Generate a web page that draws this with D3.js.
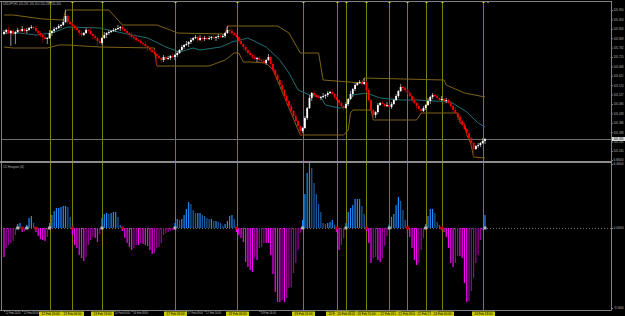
<!DOCTYPE html>
<html>
<head>
<meta charset="utf-8">
<script src="https://cdn.jsdelivr.net/npm/d3@7"></script>
<style>
html, body { margin: 0; padding: 0; background: #000; overflow: hidden; }
svg { display: block; }
</style>
</head>
<body>
<div id="chart"></div>
<script>
// ---- data ----
const symbolTitle = "USDJPY,H1  105.295 105.310 105.280 105.305";
const indicatorTitle = "CCI Histogram (14)";

const open = [
  105.830,105.840,105.850,105.835,105.845,105.830,105.840,105.850,105.845,105.855,105.845,105.850,
  105.860,105.865,105.860,105.845,105.835,105.825,105.815,105.805,
  105.810,105.835,105.845,105.855,105.860,105.870,105.875,105.890,
  105.920,105.890,105.880,105.870,105.860,105.850,105.835,105.825,105.835,105.850,105.845,105.830,105.820,105.810,105.795,
  105.785,105.810,105.825,105.835,105.840,105.845,105.850,105.855,105.860,
  105.865,105.855,105.845,105.835,105.825,105.815,105.810,105.800,105.795,105.785,105.780,105.770,105.760,105.750,105.740,
  105.730,105.720,105.710,105.700,105.715,105.705,105.710,105.720,105.715,
  105.725,105.735,105.750,105.765,105.775,105.780,105.790,105.800,105.810,105.815,105.800,
  105.810,105.805,105.810,105.805,105.810,105.815,105.810,105.815,105.820,105.815,105.820,105.835,105.850,
  105.845,105.835,105.825,105.815,105.795,105.780,105.765,
  105.750,105.735,105.725,105.715,105.705,105.710,105.700,105.695,105.685,105.700,
  105.715,105.680,105.650,105.625,105.600,105.575,105.550,105.520,105.495,105.470,105.445,105.420,105.395,105.370,
  105.345,105.360,105.410,105.460,105.510,
  105.535,105.525,105.515,105.510,105.515,105.520,105.525,105.535,105.540,105.530,
  105.515,105.500,105.485,105.470,
  105.460,105.480,105.505,105.530,105.555,105.575,105.585,105.590,105.580,
  105.590,105.550,105.500,105.450,105.425,
  105.440,105.475,105.485,105.480,105.470,105.475,105.465,105.480,105.500,105.520,105.545,
  105.565,105.560,105.550,105.535,105.520,105.500,105.485,105.470,105.455,
  105.445,105.460,105.475,105.495,105.515,105.525,
  105.520,105.510,105.500,105.505,105.495,105.500,
  105.485,105.470,105.450,105.435,105.415,105.395,105.375,105.355,105.335,
  105.310,105.285,105.255,105.270,105.275,105.285,105.295
];
const high = [
  105.850,105.855,105.865,105.850,105.855,105.845,105.860,105.855,105.870,105.860,105.860,105.865,
  105.875,105.870,105.875,105.850,105.845,105.830,105.825,105.815,
  105.850,105.850,105.865,105.865,105.880,105.880,105.905,105.950,
  105.930,105.895,105.890,105.875,105.875,105.855,105.845,105.840,105.860,105.855,105.860,105.835,105.830,105.815,105.805,
  105.815,105.840,105.840,105.850,105.850,105.860,105.860,105.875,105.870,
  105.875,105.860,105.855,105.840,105.840,105.820,105.820,105.805,105.805,105.790,105.795,105.775,105.770,105.755,105.750,
  105.735,105.735,105.715,105.725,105.720,105.720,105.725,105.735,105.730,
  105.745,105.755,105.775,105.780,105.795,105.795,105.810,105.815,105.825,105.820,105.825,
  105.815,105.820,105.815,105.820,105.820,105.830,105.820,105.830,105.825,105.830,105.840,105.870,105.855,
  105.855,105.840,105.835,105.820,105.810,105.785,105.775,
  105.755,105.745,105.730,105.730,105.715,105.720,105.705,105.705,105.705,105.730,
  105.720,105.690,105.655,105.635,105.605,105.590,105.555,105.530,105.500,105.480,105.450,105.435,105.400,105.375,
  105.365,105.420,105.465,105.525,105.540,
  105.545,105.530,105.525,105.520,105.535,105.530,105.545,105.545,105.550,105.535,
  105.530,105.505,105.495,105.475,
  105.490,105.510,105.545,105.560,105.585,105.590,105.600,105.595,105.610,
  105.595,105.560,105.505,105.455,105.445,
  105.485,105.490,105.495,105.485,105.490,105.480,105.490,105.505,105.530,105.550,105.580,
  105.570,105.570,105.555,105.545,105.525,105.515,105.490,105.480,105.460,
  105.470,105.480,105.510,105.520,105.535,105.530,
  105.530,105.515,105.520,105.510,105.510,105.505,
  105.495,105.475,105.465,105.440,105.425,105.400,105.385,105.360,105.350,
  105.315,105.290,105.275,105.285,105.290,105.310,105.310
];
const low = [
  105.825,105.830,105.830,105.770,105.820,105.780,105.835,105.835,105.840,105.830,105.835,105.845,
  105.855,105.850,105.840,105.820,105.815,105.785,105.800,105.780,
  105.805,105.820,105.835,105.850,105.855,105.860,105.870,105.885,
  105.880,105.875,105.865,105.850,105.845,105.820,105.815,105.820,105.830,105.835,105.825,105.805,105.800,105.770,105.780,
  105.775,105.805,105.810,105.825,105.835,105.840,105.840,105.850,105.845,
  105.845,105.840,105.830,105.815,105.810,105.795,105.790,105.790,105.780,105.770,105.765,105.745,105.740,105.735,105.725,
  105.670,105.705,105.685,105.690,105.700,105.700,105.700,105.710,105.700,
  105.715,105.730,105.745,105.755,105.770,105.765,105.780,105.795,105.805,105.790,105.795,
  105.790,105.795,105.800,105.800,105.800,105.805,105.795,105.805,105.810,105.810,105.810,105.830,105.830,
  105.825,105.820,105.810,105.785,105.775,105.750,105.740,
  105.730,105.720,105.705,105.700,105.690,105.690,105.690,105.680,105.675,105.695,
  105.665,105.640,105.620,105.595,105.565,105.545,105.505,105.485,105.465,105.440,105.410,105.390,105.355,105.325,
  105.335,105.355,105.400,105.455,105.495,
  105.515,105.510,105.505,105.500,105.510,105.505,105.515,105.530,105.525,105.505,
  105.495,105.470,105.460,105.450,
  105.455,105.470,105.500,105.515,105.545,105.570,105.580,105.570,105.575,
  105.535,105.490,105.445,105.400,105.410,
  105.430,105.470,105.475,105.460,105.465,105.450,105.455,105.475,105.495,105.510,105.540,
  105.545,105.540,105.530,105.515,105.490,105.480,105.455,105.445,105.435,
  105.440,105.450,105.470,105.480,105.505,105.515,
  105.505,105.490,105.495,105.480,105.485,105.480,
  105.465,105.440,105.430,105.400,105.385,105.370,105.350,105.325,105.305,
  105.270,105.215,105.250,105.260,105.265,105.280,105.280
];
const close = [
  105.840,105.850,105.835,105.845,105.830,105.840,105.850,105.845,105.855,105.845,105.850,105.860,
  105.865,105.860,105.845,105.835,105.825,105.815,105.805,105.810,
  105.835,105.845,105.855,105.860,105.870,105.875,105.890,105.920,
  105.890,105.880,105.870,105.860,105.850,105.835,105.825,105.835,105.850,105.845,105.830,105.820,105.810,105.795,105.785,
  105.810,105.825,105.835,105.840,105.845,105.850,105.855,105.860,105.865,
  105.855,105.845,105.835,105.825,105.815,105.810,105.800,105.795,105.785,105.780,105.770,105.760,105.750,105.740,105.730,
  105.720,105.710,105.700,105.715,105.705,105.710,105.720,105.715,105.725,
  105.735,105.750,105.765,105.775,105.780,105.790,105.800,105.810,105.815,105.800,105.810,
  105.805,105.810,105.805,105.810,105.815,105.810,105.815,105.820,105.815,105.820,105.835,105.850,105.845,
  105.835,105.825,105.815,105.795,105.780,105.765,105.750,
  105.735,105.725,105.715,105.705,105.710,105.700,105.695,105.685,105.700,105.715,
  105.680,105.650,105.625,105.600,105.575,105.550,105.520,105.495,105.470,105.445,105.420,105.395,105.370,105.345,
  105.360,105.410,105.460,105.510,105.535,
  105.525,105.515,105.510,105.515,105.520,105.525,105.535,105.540,105.530,105.515,
  105.500,105.485,105.470,105.460,
  105.480,105.505,105.530,105.555,105.575,105.585,105.590,105.580,105.590,
  105.550,105.500,105.450,105.425,105.440,
  105.475,105.485,105.480,105.470,105.475,105.465,105.480,105.500,105.520,105.545,105.565,
  105.560,105.550,105.535,105.520,105.500,105.485,105.470,105.455,105.445,
  105.460,105.475,105.495,105.515,105.525,105.520,
  105.510,105.500,105.505,105.495,105.500,105.485,
  105.470,105.450,105.435,105.415,105.395,105.375,105.355,105.335,105.310,
  105.285,105.255,105.270,105.275,105.285,105.295,105.305
];

// channel lines as [bar, price] knots
const upperBand = [[0,105.925],[4,105.925],[17,105.905],[26,105.900],[27,105.950],[46,105.950],[52,105.875],[67,105.875],
  [73,105.850],[76,105.835],[97,105.830],[98,105.870],[120,105.870],[125,105.835],[130,105.735],[138,105.735],[140,105.600],
  [157,105.585],[158,105.610],[193,105.600],[194,105.575],[202,105.535],[211,105.515]];
const lowerBand = [[0,105.765],[4,105.760],[19,105.760],[24,105.775],[28,105.775],[42,105.765],[66,105.760],[67,105.670],
  [90,105.670],[97,105.700],[101,105.735],[103,105.735],[105,105.690],[108,105.690],[115,105.685],[118,105.650],[130,105.325],
  [149,105.325],[151,105.350],[152,105.435],[153,105.450],[161,105.450],[162,105.400],[181,105.400],[183,105.435],[199,105.435],
  [200,105.385],[202,105.385],[203,105.325],[204,105.305],[205,105.270],[206,105.215],[211,105.210]];
const midLine = [[0,105.835],[7,105.835],[14,105.825],[21,105.835],[28,105.865],[42,105.860],[52,105.835],[63,105.810],
  [71,105.765],[77,105.740],[83,105.760],[86,105.750],[95,105.765],[100,105.790],[107,105.810],[115,105.765],[121,105.700],
  [125,105.635],[129,105.550],[134,105.525],[139,105.515],[141,105.475],[147,105.460],[150,105.465],[153,105.525],[159,105.535],
  [165,105.510],[174,105.500],[181,105.500],[196,105.490],[203,105.440],[208,105.385],[211,105.365]];

const histogram = [
  -2.9,-2.0,-1.7,-1.5,-1.3,-0.7,0.4,0.5,-0.4,-0.3,0.3,1.0,1.2,0.5,-0.4,-0.8,-1.1,-1.2,-1.3,-0.9,
  0.5,1.3,1.7,2.0,2.0,2.1,2.2,2.2,2.1,1.1,
  -0.7,-1.7,-2.0,-2.7,-3.0,-3.3,-2.9,-1.7,-1.2,-0.9,-1.0,-1.4,-0.6,
  1.0,1.4,1.5,1.4,1.5,1.6,1.6,1.1,0.3,
  -0.3,-1.0,-1.5,-1.9,-2.2,-2.0,-1.7,-1.7,-1.5,-1.6,-1.7,-1.8,-2.2,-2.6,-2.5,-2.0,-1.9,-1.5,-0.7,-0.5,-0.4,-0.3,-0.2,
  0.5,0.9,0.8,0.9,1.3,1.9,2.6,2.4,1.8,1.5,1.5,1.5,1.3,1.2,1.0,0.9,0.9,0.7,0.7,0.6,0.5,0.2,0.4,0.7,1.2,1.3,0.9,
  -0.4,-0.7,-1.0,-1.4,-3.4,-3.9,-4.2,-4.4,-3.0,-3.2,-2.0,-1.9,-1.5,-1.5,-1.5,-2.7,-4.6,-6.4,-7.4,-7.4,-7.2,-7.4,-7.0,-6.0,-5.9,-4.5,-3.5,-2.2,-0.5,
  0.8,3.4,5.5,6.6,6.0,4.5,3.4,2.4,1.6,0.5,0.4,0.5,0.6,0.8,0.3,
  -0.4,-2.2,-1.7,-1.0,
  0.5,1.6,2.0,2.3,2.9,2.9,2.9,2.2,1.4,
  -0.3,-1.5,-3.5,-3.0,-2.9,-3.2,-3.4,-3.0,-1.8,-0.8,
  0.4,1.1,1.4,2.3,3.1,2.7,1.8,0.8,
  -0.6,-0.9,-2.0,-3.2,-3.7,-3.5,-2.2,-1.0,
  0.4,1.2,1.9,1.9,1.5,0.6,0.3,
  -0.2,-0.4,-0.9,-2.0,-3.5,-3.9,-3.5,-2.8,-2.8,-3.0,-5.5,-7.4,-7.3,-6.3,-5.0,-3.5,-2.7,-1.2,-0.2,
  1.3
];

// vertical signal lines (bar index) and their time labels
const signalBars = [20, 30, 43, 75, 102, 131, 146, 150, 159, 169, 177, 185, 192, 210];
const signalTimes = ["12 Feb 20:00","13 Feb 06:00","13 Feb 19:00","17 Feb 03:00","18 Feb 06:00","19 Feb 11:00",
  "20 Feb 02:00","20 Feb 06:00","20 Feb 15:00","21 Feb 01:00","21 Feb 09:00","21 Feb 17:00","24 Feb 00:00","24 Feb 18:00"];

const priceTicks = [105.950,105.903,105.856,105.809,105.762,105.715,105.668,105.621,105.574,105.527,105.480,105.433,105.386,105.339,105.292,105.245];
const histTicks = [6.8, 6.4, 0, -8.0];
const timeTickBars = [0,8,16,24,32,40,48,56,64,72,80,88,96,104,112,120,128,136,144,152,160,168,176,184,192,200,208];
const timeTickLabels = ["12 Feb 2020","12 Feb 08:00","12 Feb 16:00","13 Feb 00:00","13 Feb 08:00","13 Feb 16:00","14 Feb 00:00",
  "14 Feb 08:00","14 Feb 16:00","17 Feb 00:00","17 Feb 08:00","17 Feb 16:00","18 Feb 00:00","18 Feb 08:00","18 Feb 16:00",
  "19 Feb 00:00","19 Feb 08:00","19 Feb 16:00","20 Feb 00:00","20 Feb 08:00","20 Feb 16:00","21 Feb 00:00","21 Feb 08:00",
  "21 Feb 16:00","24 Feb 00:00","24 Feb 08:00","24 Feb 16:00"];

// ---- layout ----
const W = 625, H = 316;
const paneLeft = 1, paneRight = 611;
const mainTop = 2, mainBottom = 161, subTop = 163, subBottom = 310;
const FONT = '"Liberation Sans", Arial, sans-serif';
const AXIS_FONT = 3.0;

const svg = d3.select('#chart').append('svg')
    .attr('width', W)
    .attr('height', H)
    .style('background', '#000');

const x = d3.scaleLinear().domain([0, close.length - 1]).range([4, 485]);
const yPrice = d3.scaleLinear().domain([105.195, 105.990]).range([mainBottom, mainTop]);
const yHist = d3.scaleLinear().domain([-8.2, 6.8]).range([subBottom, 160]);

const defs = svg.append('defs');
defs.append('clipPath').attr('id', 'clipMain').append('rect')
    .attr('x', paneLeft).attr('y', mainTop).attr('width', paneRight - paneLeft).attr('height', mainBottom - mainTop);
defs.append('clipPath').attr('id', 'clipSub').append('rect')
    .attr('x', paneLeft).attr('y', subTop - 1).attr('width', paneRight - paneLeft).attr('height', subBottom - subTop + 1);

// vertical signal lines behind everything
svg.append('g').selectAll('line')
    .data(signalBars)
    .enter()
    .append('line')
    .attr('x1', d => Math.round(x(d)) + 0.5)
    .attr('x2', d => Math.round(x(d)) + 0.5)
    .attr('y1', mainTop)
    .attr('y2', subBottom)
    .attr('stroke', '#7f7f00')
    .attr('stroke-width', 1);

// ---- main pane ----
const mainG = svg.append('g').attr('clip-path', 'url(#clipMain)');

// current price line
mainG.append('line')
    .attr('x1', paneLeft).attr('x2', paneRight)
    .attr('y1', Math.round(yPrice(close[close.length - 1])) + 0.5)
    .attr('y2', Math.round(yPrice(close[close.length - 1])) + 0.5)
    .attr('stroke', '#6e6e6e').attr('stroke-width', 1);

const lineGen = d3.line().x(d => x(d[0])).y(d => yPrice(d[1]));
mainG.append('path').datum(upperBand).attr('d', lineGen)
    .attr('fill', 'none').attr('stroke', '#7d6318').attr('stroke-width', 1);
mainG.append('path').datum(lowerBand).attr('d', lineGen)
    .attr('fill', 'none').attr('stroke', '#7d6318').attr('stroke-width', 1);
mainG.append('path').datum(midLine).attr('d', lineGen)
    .attr('fill', 'none').attr('stroke', '#1f6f70').attr('stroke-width', 1);

const bars = close.map((c, i) => ({ i, o: open[i], h: high[i], l: low[i], c }));

mainG.selectAll('.wick')
    .data(bars)
    .enter()
    .append('line')
    .attr('class', 'wick')
    .attr('x1', d => x(d.i))
    .attr('x2', d => x(d.i))
    .attr('y1', d => yPrice(d.h))
    .attr('y2', d => yPrice(d.l))
    .attr('stroke', d => d.c >= d.o ? '#b8b8b8' : '#9a0000')
    .attr('stroke-width', 0.8);

mainG.selectAll('.body')
    .data(bars)
    .enter()
    .append('rect')
    .attr('class', 'body')
    .attr('x', d => x(d.i) - 0.9)
    .attr('width', 1.8)
    .attr('y', d => yPrice(Math.max(d.o, d.c)))
    .attr('height', d => Math.max(0.8, Math.abs(yPrice(d.o) - yPrice(d.c))))
    .attr('fill', d => d.c >= d.o ? '#ffffff' : '#ff0000');

// ---- indicator pane ----
const subG = svg.append('g').attr('clip-path', 'url(#clipSub)');

subG.append('line')
    .attr('x1', paneLeft).attr('x2', paneRight)
    .attr('y1', Math.round(yHist(0)) + 0.5).attr('y2', Math.round(yHist(0)) + 0.5)
    .attr('stroke', '#8a8a8a').attr('stroke-width', 0.8)
    .attr('stroke-dasharray', '1,2');

subG.selectAll('.hbar')
    .data(histogram)
    .enter()
    .append('rect')
    .attr('class', 'hbar')
    .attr('x', (v, i) => x(i) - 0.6)
    .attr('width', 1.2)
    .attr('y', v => yHist(Math.max(0, v)))
    .attr('height', v => Math.abs(yHist(v) - yHist(0)))
    .attr('fill', (v, i) => {
        const prev = i ? histogram[i - 1] : 0;
        if (v >= 0) return v >= prev ? '#1e8cff' : '#1b5ea8';
        return v <= prev ? '#ff00ff' : '#990099';
    });

// zero-cross markers
const crosses = histogram
    .map((v, i) => ({ i, v }))
    .filter(d => d.i > 0 && Math.sign(d.v) !== Math.sign(histogram[d.i - 1]));
subG.selectAll('.cross')
    .data(crosses)
    .enter()
    .append('rect')
    .attr('class', 'cross')
    .attr('x', d => x(d.i) - 1.5)
    .attr('y', yHist(0) - 1.5)
    .attr('width', 3)
    .attr('height', 3)
    .attr('fill', d => d.v > 0 ? '#b4b4b4' : '#c80000');

// little anchors of the vertical lines
svg.append('g').selectAll('rect')
    .data(signalBars.flatMap(b => [[b, mainTop - 1], [b, mainBottom]]))
    .enter()
    .append('rect')
    .attr('x', d => Math.round(x(d[0])) - 0.5)
    .attr('y', d => d[1])
    .attr('width', 2).attr('height', 2)
    .attr('fill', '#d8d800');

// chart shift marker
svg.append('rect').attr('x', 487).attr('y', 1).attr('width', 2).attr('height', 2).attr('fill', '#5a7898');

// ---- frame ----
const frame = svg.append('g').attr('stroke', '#808080').attr('fill', 'none');
frame.append('line').attr('x1', 0).attr('x2', paneRight + 0.5).attr('y1', 1.5).attr('y2', 1.5);
frame.append('line').attr('x1', 1.5).attr('x2', 1.5).attr('y1', 1).attr('y2', subBottom + 0.5);
frame.append('line').attr('x1', paneRight + 0.5).attr('x2', paneRight + 0.5).attr('y1', 1).attr('y2', subBottom + 0.5);
frame.append('line').attr('x1', 0).attr('x2', paneRight + 0.5).attr('y1', subBottom + 0.5).attr('y2', subBottom + 0.5);
frame.append('line').attr('x1', 0).attr('x2', paneRight + 0.5).attr('y1', mainBottom + 1).attr('y2', mainBottom + 1)
    .attr('stroke-width', 2).attr('stroke', '#8c8c8c');

// ---- axes ----
function styleRightAxis(g) {
    g.select('.domain').remove();
    g.selectAll('line').attr('stroke', '#808080');
    g.selectAll('text')
        .attr('fill', '#bdbdbd')
        .attr('font-size', AXIS_FONT)
        .attr('font-family', FONT)
        .attr('x', 2)
        .attr('textLength', 10)
        .attr('lengthAdjust', 'spacingAndGlyphs');
}

const priceAxis = d3.axisRight(yPrice)
    .tickValues(priceTicks)
    .tickSize(1.5)
    .tickFormat(d3.format('.3f'));
svg.append('g')
    .attr('transform', `translate(${paneRight + 0.5},0)`)
    .call(priceAxis)
    .call(styleRightAxis);

// current price tag
const lastY = yPrice(close[close.length - 1]);
svg.append('rect').attr('x', paneRight + 1).attr('y', lastY - 2).attr('width', 13).attr('height', 4).attr('fill', '#dcdcdc');
svg.append('text').attr('x', paneRight + 2.5).attr('y', lastY + 1.1)
    .attr('font-size', AXIS_FONT).attr('font-family', FONT).attr('fill', '#000')
    .attr('textLength', 10).attr('lengthAdjust', 'spacingAndGlyphs')
    .text(close[close.length - 1].toFixed(3));

const histAxis = d3.axisRight(yHist)
    .tickValues(histTicks)
    .tickSize(1.5)
    .tickFormat(d3.format('.4f'));
svg.append('g')
    .attr('transform', `translate(${paneRight + 0.5},0)`)
    .call(histAxis)
    .call(styleRightAxis);

// time labels of the vertical lines (boxes first, so regular labels under them can be skipped)
const sigSpans = signalBars.map(b => [Math.round(x(b)) + 0.5 - 11.5, Math.round(x(b)) + 0.5 + 11.5]);
const LABEL_W = 15;
const freeTicks = timeTickBars
    .map((b, k) => ({ b, label: timeTickLabels[k] }))
    .filter(t => {
        const a = x(t.b) + 1, z = a + LABEL_W;
        return !sigSpans.some(s => z > s[0] && a < s[1]);
    });

const timeAxis = d3.axisBottom(x)
    .tickValues(freeTicks.map(t => t.b))
    .tickSize(1.5)
    .tickFormat((d, i) => freeTicks[i].label);
svg.append('g')
    .attr('transform', `translate(0,${subBottom + 0.5})`)
    .call(timeAxis)
    .call(g => {
        g.select('.domain').remove();
        g.selectAll('line').attr('stroke', '#808080');
        g.selectAll('text')
            .attr('fill', '#bdbdbd').attr('font-size', AXIS_FONT).attr('font-family', FONT)
            .attr('text-anchor', 'start').attr('x', 1).attr('y', 1.8).attr('dy', '0.71em')
            .attr('textLength', LABEL_W).attr('lengthAdjust', 'spacingAndGlyphs');
    });

const sigLabels = svg.append('g');
signalBars.forEach((b, k) => {
    const cx = Math.round(x(b)) + 0.5;
    sigLabels.append('rect')
        .attr('x', cx - 11.5).attr('y', subBottom + 1.5)
        .attr('width', 23).attr('height', 4.5)
        .attr('fill', '#c8c800');
    sigLabels.append('text')
        .attr('x', cx - 9).attr('y', subBottom + 4.9)
        .attr('font-size', AXIS_FONT).attr('font-family', FONT).attr('fill', '#000')
        .attr('textLength', 18).attr('lengthAdjust', 'spacingAndGlyphs')
        .text(signalTimes[k]);
});

// ---- titles ----
svg.append('text').attr('x', 3).attr('y', 5.2)
    .attr('font-size', AXIS_FONT).attr('font-family', FONT).attr('fill', '#bdbdbd')
    .attr('textLength', 58).attr('lengthAdjust', 'spacingAndGlyphs')
    .text(symbolTitle);
svg.append('text').attr('x', 3).attr('y', 167.5)
    .attr('font-size', AXIS_FONT).attr('font-family', FONT).attr('fill', '#bdbdbd')
    .attr('textLength', 21).attr('lengthAdjust', 'spacingAndGlyphs')
    .text(indicatorTitle);
</script>
</body>
</html>
